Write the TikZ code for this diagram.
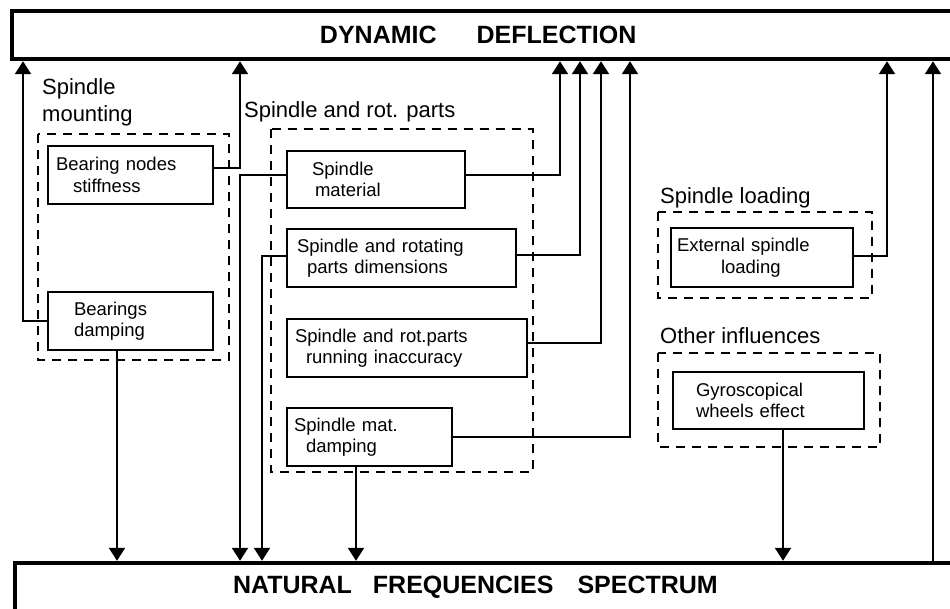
\documentclass[tikz,border=0pt]{standalone}
\usepackage{fontspec}
\setmainfont{Liberation Sans}
\usetikzlibrary{arrows.meta}

\tikzset{
  sized/.style 2 args={minimum width=#1, text width=#1, minimum height=#2},
  box/.style={draw, line width=2.2pt, rectangle, inner sep=0pt, outer sep=0pt,
    anchor=north west, align=left, font=\fontsize{18.5}{21.5}\selectfont},
  grp/.style={draw, line width=2.3pt, dash pattern=on 9pt off 7pt},
  grplabel/.style={inner sep=0pt, anchor=base west, font=\fontsize{22}{27}\selectfont},
  bigbox/.style={draw, line width=4.4pt, rectangle, inner sep=0pt, align=left,
    font=\fontsize{25}{30}\selectfont\bfseries},
  conn/.style={line width=2.1pt},
  arr/.style={conn, -{Triangle[width=16pt,length=13pt]}},
}

\begin{document}
\begin{tikzpicture}[x=1pt, y=-1pt]
  \path[use as bounding box] (0,0) rectangle (950,608);
  \clip (0,0) rectangle (950,608);

  % result blocks
  \node[bigbox, sized={945pt}{48pt}] (dyn) at (484.5,35)
    {\hspace*{308pt}DYNAMIC\hspace{40pt}DEFLECTION};
  \node[bigbox, sized={945pt}{49pt}] (nfs) at (487.5,587.5)
    {\hspace*{218pt}NATURAL\hspace{21pt}FREQUENCIES\hspace{24pt}SPECTRUM};

  % group frames
  \draw[grp] (38,134) rectangle (229,360);
  \draw[grp] (271,129) rectangle (533,472);
  \draw[grp] (658,212) rectangle (872,298);
  \draw[grp] (658,353) rectangle (880,447);

  % group titles
  \node[grplabel] (mount1) at (42,94) {Spindle};
  \node[grplabel] (mount2) at (42,121) {mounting};
  \node[grplabel] (rotlbl) at (244,117) {Spindle and rot. parts};
  \node[grplabel] (loadlbl) at (660,203) {Spindle loading};
  \node[grplabel] (otherlbl) at (660,343) {Other influences};

  % influence boxes
  \node[box, sized={165pt}{58pt}] (bns) at (48,146)
    {\hspace*{8pt}Bearing nodes\\\hspace*{25pt}stiffness};
  \node[box, sized={165pt}{58pt}] (bd) at (48,292)
    {\hspace*{26pt}Bearings\\\hspace*{26pt}damping};
  \node[box, sized={178pt}{57pt}] (sm) at (287,151)
    {\hspace*{25pt}Spindle\\\hspace*{28pt}material};
  \node[box, sized={229pt}{58pt}] (srd) at (287,229)
    {\hspace*{10pt}Spindle and rotating\\\hspace*{20pt}parts dimensions};
  \node[box, sized={240pt}{58pt}] (sri) at (287,319)
    {\hspace*{8pt}Spindle and rot.parts\\\hspace*{19pt}running inaccuracy};
  \node[box, sized={165pt}{58pt}] (smd) at (287,408)
    {\hspace*{7pt}Spindle mat.\\\hspace*{19pt}damping};
  \node[box, sized={182pt}{59pt}] (esl) at (671,228)
    {\hspace*{6pt}External spindle\\\hspace*{50pt}loading};
  \node[box, sized={191pt}{57pt}] (gyro) at (673,372)
    {\hspace*{23pt}Gyroscopical\\\hspace*{23pt}wheels effect};

  % links to the dynamic deflection
  \draw[arr] (bd.west) -| (23,0 |- dyn.south);
  \draw[arr] ([yshift=7pt]bns.east) -| (240,0 |- dyn.south);
  \draw[arr] ([yshift=4.5pt]sm.east) -| (560,0 |- dyn.south);
  \draw[arr] ([yshift=3pt]srd.east) -| (580,0 |- dyn.south);
  \draw[arr] ([yshift=5pt]sri.east) -| (601,0 |- dyn.south);
  \draw[arr] (smd.east) -| (630,0 |- dyn.south);
  \draw[arr] ([yshift=1.5pt]esl.east) -| (887,0 |- dyn.south);
  \draw[arr] (933,0 |- nfs.north) -- (933,0 |- dyn.south);

  % links to the natural frequencies spectrum
  \draw[arr] (117,0 |- bd.south) -- (117,0 |- nfs.north);
  \draw[arr] ([yshift=4.5pt]sm.west) -| (240,0 |- nfs.north);
  \draw[arr] ([yshift=2pt]srd.west) -| (262,0 |- nfs.north);
  \draw[arr] (356,0 |- smd.south) -- (356,0 |- nfs.north);
  \draw[arr] (783,0 |- gyro.south) -- (783,0 |- nfs.north);
\end{tikzpicture}
\end{document}
